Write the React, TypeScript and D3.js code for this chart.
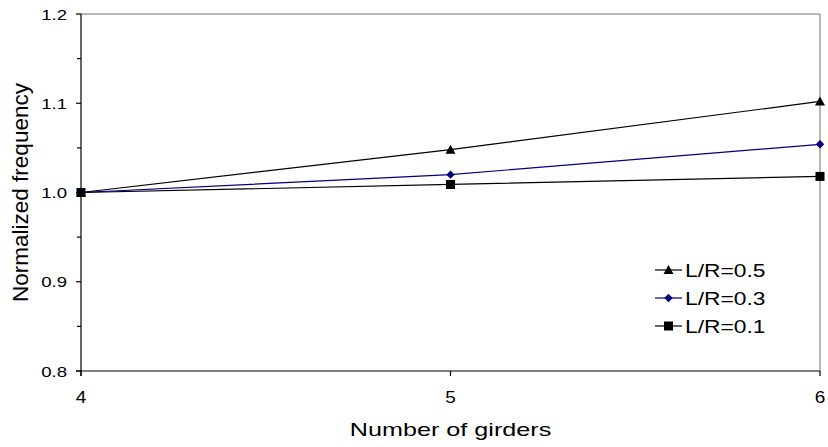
import React from "react";
import * as d3 from "d3";

const girders = [4, 5, 6];
const lr05 = [1.0, 1.048, 1.102];
const lr03 = [1.0, 1.02, 1.054];
const lr01 = [1.0, 1.009, 1.018];
const yTicks = [0.8, 0.9, 1.0, 1.1, 1.2];
const yMinor = [0.85, 0.95, 1.05, 1.15];
const seriesNames = ["L/R=0.5", "L/R=0.3", "L/R=0.1"];

const W = 828, H = 447;
const L = 81, R = 820, T = 14, B = 371;
const FONT = "Liberation Sans, Arial, sans-serif";

export default function App() {
  const x = d3.scaleLinear().domain([4, 6]).range([L, R]);
  const y = d3.scaleLinear().domain([0.8, 1.2]).range([B, T]);
  const line = d3.line<number>().x((_, i) => x(girders[i])).y((v) => y(v));

  const series = [
    { name: seriesNames[0], vals: lr05, color: "#000000", marker: "tri" },
    { name: seriesNames[1], vals: lr03, color: "#000080", marker: "dia" },
    { name: seriesNames[2], vals: lr01, color: "#000000", marker: "sq" },
  ];

  const marker = (type: string, cx: number, cy: number, color: string, key: string) => {
    if (type === "tri")
      return <path key={key} d={`M${cx},${cy - 5}L${cx + 5},${cy + 4}L${cx - 5},${cy + 4}Z`} fill={color} />;
    if (type === "dia")
      return <path key={key} d={`M${cx},${cy - 4.2}L${cx + 4.2},${cy}L${cx},${cy + 4.2}L${cx - 4.2},${cy}Z`} fill={color} />;
    return <rect key={key} x={cx - 4.5} y={cy - 4.5} width={9} height={9} fill={color} />;
  };

  const legendRows = [270, 298, 326];

  return (
    <div style={{ position: "fixed", left: 0, top: 0 }}>
      <svg width={W} height={H} style={{ display: "block", background: "#fff" }} fontFamily={FONT}>
        <line x1={L} x2={R} y1={T} y2={T} stroke="#a0a0a0" strokeWidth={1.5} />
        <line x1={R} x2={R} y1={T} y2={B} stroke="#a0a0a0" strokeWidth={1.5} />
        <line x1={L} x2={L} y1={T} y2={B + 5} stroke="#000" strokeWidth={1.2} />
        <line x1={L - 5} x2={R} y1={B} y2={B} stroke="#000" strokeWidth={1.2} />
        {yTicks.map((t) => (
          <g key={"yt" + t}>
            <line x1={L - 5} x2={L} y1={y(t)} y2={y(t)} stroke="#000" strokeWidth={1.2} />
            <text
              transform={`translate(${L - 14},${y(t) + 5.5}) scale(1.2,1)`}
              textAnchor="end"
              fontSize={15.5}
              fill="#000"
            >
              {t.toFixed(1)}
            </text>
          </g>
        ))}
        {yMinor.map((t) => (
          <line key={"ym" + t} x1={L - 4} x2={L} y1={y(t)} y2={y(t)} stroke="#000" strokeWidth={1.2} />
        ))}
        {girders.map((g) => (
          <g key={"xt" + g}>
            <line x1={x(g)} x2={x(g)} y1={B} y2={B + 5} stroke="#000" strokeWidth={1.2} />
            <text
              transform={`translate(${x(g)},${B + 32}) scale(1.15,1)`}
              textAnchor="middle"
              fontSize={16.5}
              fill="#000"
            >
              {g}
            </text>
          </g>
        ))}
        <text transform={`translate(${(L + R) / 2},${436}) scale(1.4,1)`} textAnchor="middle" fontSize={18} fill="#000">
          Number of girders
        </text>
        <text transform={`translate(${28},${(T + B) / 2}) rotate(-90)`} textAnchor="middle" fontSize={22.5} fill="#000">
          Normalized frequency
        </text>
        {[...series].reverse().map((s) => (
          <g key={s.name}>
            <path d={line(s.vals) || ""} fill="none" stroke={s.color} strokeWidth={1.2} />
            {s.vals.map((v, i) => marker(s.marker, x(girders[i]), y(v), s.color, s.name + i))}
          </g>
        ))}
        {series.map((s, i) => (
          <g key={"lg" + s.name}>
            <line x1={655} x2={682} y1={legendRows[i]} y2={legendRows[i]} stroke={s.color} strokeWidth={1.2} />
            {marker(s.marker, 668.5, legendRows[i], s.color, "lm" + i)}
            <text transform={`translate(685,${legendRows[i] + 7}) scale(1.2,1)`} fontSize={19} fill="#000">
              {s.name}
            </text>
          </g>
        ))}
      </svg>
    </div>
  );
}
